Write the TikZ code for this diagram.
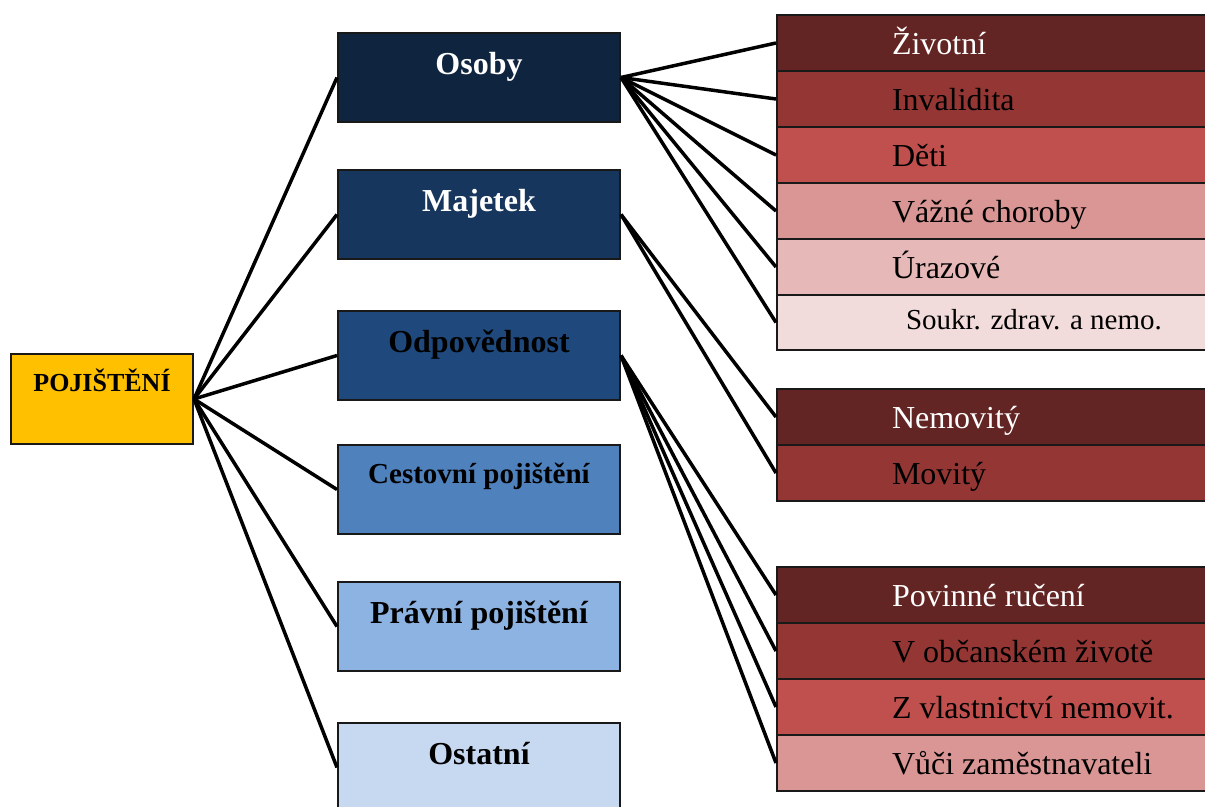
\documentclass[tikz,border=0pt]{standalone}
\usepackage{fontspec}
\setmainfont{Liberation Serif}
\definecolor{rootfill}{HTML}{FFC000}
\definecolor{bA}{HTML}{0F243E}
\definecolor{bB}{HTML}{17365D}
\definecolor{bC}{HTML}{1F497D}
\definecolor{bD}{HTML}{4F81BD}
\definecolor{bE}{HTML}{8DB3E2}
\definecolor{bF}{HTML}{C6D9F1}
\definecolor{rA}{HTML}{632523}
\definecolor{rB}{HTML}{943634}
\definecolor{rC}{HTML}{C0504D}
\definecolor{rD}{HTML}{D99694}
\definecolor{rE}{HTML}{E6B9B8}
\definecolor{rF}{HTML}{F2DCDB}
\tikzset{
  boxline/.style={draw=black!90, line width=2bp},
  rootbox/.style={boxline, fill=rootfill, anchor=north west, inner sep=0pt,
    minimum width=182bp, text height=37bp, text depth=53bp,
    font=\fontsize{26bp}{30bp}\selectfont\bfseries},
  midbox/.style={boxline, anchor=north west, inner sep=0pt,
    minimum width=282bp, text height=41bp, text depth=48bp,
    font=\fontsize{32bp}{38bp}\selectfont\bfseries},
  leafbox/.style={boxline, anchor=north west, inner sep=0pt,
    text height=39bp, text depth=17bp,
    font=\fontsize{32bp}{38bp}\selectfont},
  conn/.style={line width=3.5bp, black},
}
\newcommand{\leaftext}[2][115bp]{\makebox[440bp][l]{\hspace*{#1}#2}}
\begin{document}
\begin{tikzpicture}[x=1bp, y=-1bp]
\useasboundingbox (0,0) rectangle (1205,807);
\clip (0,0) rectangle (1205,807);

% root
\node[rootbox] (root) at (10,353) {POJIŠTĚNÍ};

% middle column
\node[midbox, fill=bA, text=white] (osoby) at (337,32) {Osoby};
\node[midbox, fill=bB, text=white] (majetek) at (337,169) {Majetek};
\node[midbox, fill=bC, text=black] (odpov) at (337,310) {Odpovědnost};
\node[midbox, fill=bD, text=black, text height=38bp, text depth=51bp,
      font=\fontsize{29bp}{34bp}\selectfont\bfseries] (cestovni) at (337,444) {Cestovní pojištění};
\node[midbox, fill=bE, text=black] (pravni) at (337,581) {Právní pojištění};
\node[midbox, fill=bF, text=black] (ostatni) at (337,722) {Ostatní};

% right column: persons
\node[leafbox, fill=rA, text=white] (zivotni) at (776,14) {\leaftext{Životní}};
\node[leafbox, fill=rB] (invalidita) at (776,70) {\leaftext{Invalidita}};
\node[leafbox, fill=rC] (deti) at (776,126) {\leaftext{Děti}};
\node[leafbox, fill=rD] (vazne) at (776,182) {\leaftext{Vážné choroby}};
\node[leafbox, fill=rE] (urazove) at (776,238) {\leaftext{Úrazové}};
\node[leafbox, fill=rF, text height=34bp, text depth=21bp,
      font=\fontsize{29bp}{34bp}\selectfont] (soukr) at (776,294) {\leaftext[129bp]{Soukr. zdrav. a nemo.}};

% right column: property
\node[leafbox, fill=rA, text=white] (nemovity) at (776,388) {\leaftext{Nemovitý}};
\node[leafbox, fill=rB] (movity) at (776,444) {\leaftext{Movitý}};

% right column: liability
\node[leafbox, fill=rA, text=white] (povinne) at (776,566) {\leaftext{Povinné ručení}};
\node[leafbox, fill=rB] (obcanske) at (776,622) {\leaftext{V občanském životě}};
\node[leafbox, fill=rC] (vlastnictvi) at (776,678) {\leaftext{Z vlastnictví nemovit.}};
\node[leafbox, fill=rD] (vuci) at (776,734) {\leaftext{Vůči zaměstnavateli}};

% connectors from root
\foreach \t in {osoby,majetek,odpov,cestovni,pravni,ostatni}
  \draw[conn] (root.east) -- (\t.west);

% connectors from Osoby
\foreach \t in {zivotni,invalidita,deti,vazne,urazove,soukr}
  \draw[conn] (osoby.east) -- (\t.west);

% connectors from Majetek
\foreach \t in {nemovity,movity}
  \draw[conn] (majetek.east) -- (\t.west);

% connectors from Odpovědnost
\foreach \t in {povinne,obcanske,vlastnictvi,vuci}
  \draw[conn] (odpov.east) -- (\t.west);
\end{tikzpicture}
\end{document}
